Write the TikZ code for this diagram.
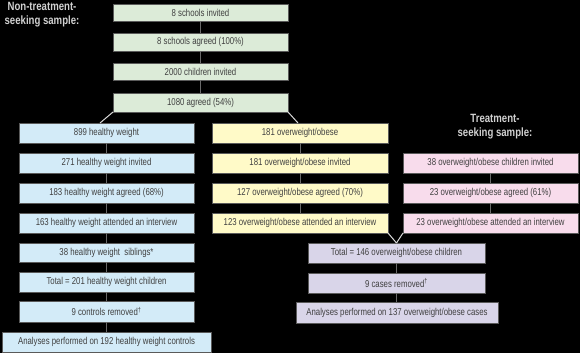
\documentclass[tikz,border=0pt]{standalone}
\usepackage{fontspec}
\setmainfont{Liberation Sans}[FakeStretch=0.78]
\newfontfamily\labfont{Liberation Sans}[FakeStretch=0.8]
\definecolor{bggreen}{HTML}{DCEBD8}
\definecolor{bgblue}{HTML}{D3EBF8}
\definecolor{bgyellow}{HTML}{FFFAC8}
\definecolor{bgpink}{HTML}{F8DCEC}
\definecolor{bgpurple}{HTML}{D9D5E9}
\definecolor{txt}{HTML}{404040}
\definecolor{edge}{HTML}{5A5A5A}
\definecolor{conn}{HTML}{6A6A6A}
\begin{document}
\begin{tikzpicture}[x=1pt,y=-1pt,
  box/.style={draw=edge,line width=0.9pt,anchor=north west,inner sep=0pt,outer sep=0pt,
    minimum width=175pt,minimum height=20pt,text=txt,font=\fontsize{10}{11}\selectfont},
  gbox/.style={box,fill=bggreen},
  bbox/.style={box,fill=bgblue},
  ybox/.style={box,fill=bgyellow,minimum width=176pt},
  pbox/.style={box,fill=bgpink},
  ubox/.style={box,fill=bgpurple,minimum width=177pt},
  lab/.style={text=black!18,font=\labfont\bfseries\fontsize{12}{14}\selectfont,align=center,inner sep=0pt},
  vline/.style={draw=conn,line width=0.9pt},
  dline/.style={draw=white!85!black,line width=1pt}]
\useasboundingbox (0,0) rectangle (580,353);
\fill[black] (0,0) rectangle (580,353);
% top green
\node[gbox,minimum height=17pt] (g1) at (113,4) {8 schools invited};
\node[gbox,minimum height=18pt] (g2) at (113,33) {8 schools agreed (100\%)};
\node[gbox,minimum height=17pt] (g3) at (113,63) {2000 children invited};
\node[gbox,minimum height=19pt] (g4) at (113,93) {1080 agreed (54\%)};
% blue
\node[bbox] (b1) at (19,123) {899 healthy weight};
\node[bbox] (b2) at (19,153) {271 healthy weight invited};
\node[bbox] (b3) at (19,183) {183 healthy weight agreed (68\%)};
\node[bbox] (b4) at (19,213) {163 healthy weight attended an interview};
\node[bbox,minimum height=19pt] (b5) at (19,243) {38 healthy weight\ \ siblings*};
\node[bbox] (b6) at (19,272) {Total = 201 healthy weight children};
\node[bbox,minimum height=21pt] (b7) at (19,301) {9 controls removed\textsuperscript{†}};
\node[bbox,minimum width=209pt] (b8) at (2,332) {Analyses performed on 192 healthy weight controls};
% yellow
\node[ybox] (y1) at (212,123) {181 overweight/obese};
\node[ybox] (y2) at (212,153) {181 overweight/obese invited};
\node[ybox] (y3) at (212,183) {127 overweight/obese agreed (70\%)};
\node[ybox] (y4) at (212,213) {123 overweight/obese attended an interview};
% pink
\node[pbox] (p1) at (403,153) {38 overweight/obese children invited};
\node[pbox] (p2) at (403,183) {23 overweight/obese agreed (61\%)};
\node[pbox] (p3) at (403,213) {23 overweight/obese attended an interview};
% purple
\node[ubox] (u1) at (308,243) {Total = 146 overweight/obese children};
\node[ubox] (u2) at (308,273) {9 cases removed\textsuperscript{†}};
\node[ubox,minimum width=202pt,minimum height=21pt] (u3) at (296,302) {Analyses performed on 137 overweight/obese cases};
% labels
\node[lab] (lnt) at (42,15) {Non-treatment-\\seeking sample:};
\node[lab] (lt) at (495,127) {Treatment-\\seeking sample:};
% connectors
\draw[vline] (g1) -- (g2);
\draw[vline] (g2) -- (g3);
\draw[vline] (g3) -- (g4);
\draw[vline] (b1) -- (b2);
\draw[vline] (b2) -- (b3);
\draw[vline] (b3) -- (b4);
\draw[vline] (b4) -- (b5);
\draw[vline] (b5) -- (b6);
\draw[vline] (b6) -- (b7);
\draw[vline] (b7) -- (b8);
\draw[vline] (y1) -- (y2);
\draw[vline] (y2) -- (y3);
\draw[vline] (y3) -- (y4);
\draw[vline] (p1) -- (p2);
\draw[vline] (p2) -- (p3);
\draw[vline] (u1) -- (u2);
\draw[vline] (u2.south) -- (u2.south |- u3.north);
\coordinate (bt) at (100,123);
\coordinate (yt) at (298,123);
\draw[dline] (g4.south west) -- (bt);
\draw[dline] (g4.south east) -- (yt);
\draw[dline] (y4.south east) -- (u1.north);
\draw[dline] (p3.south west) -- (u1.north);
\end{tikzpicture}
\end{document}
